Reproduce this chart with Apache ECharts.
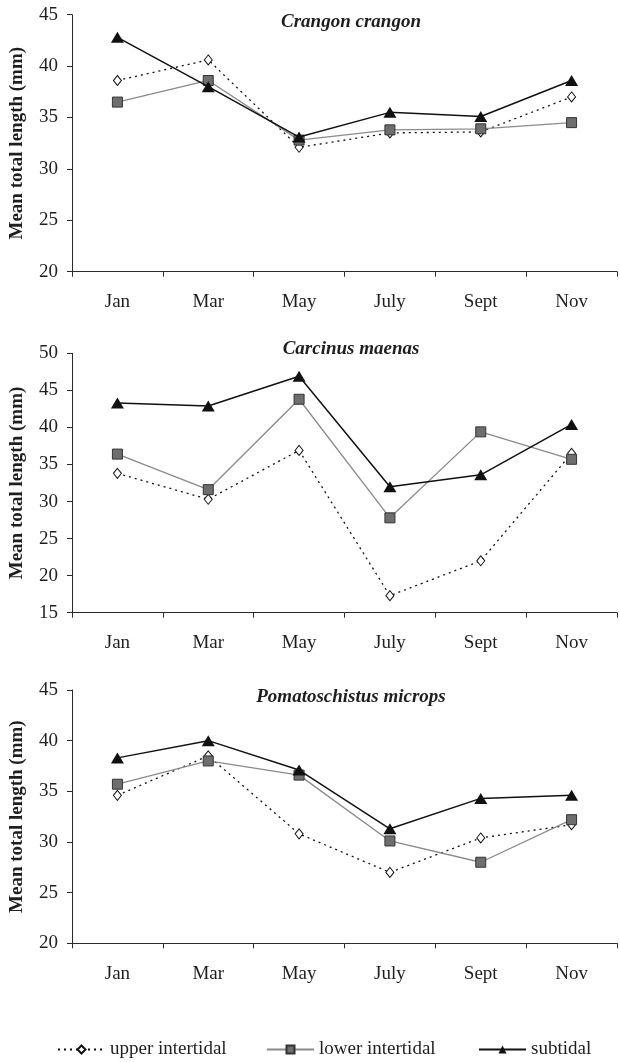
<!DOCTYPE html>
<html>
<head>
<meta charset="utf-8">
<script src="https://cdn.jsdelivr.net/npm/echarts@6/dist/echarts.min.js"></script>
<style>
html,body{margin:0;padding:0;background:#fff;}
#chart{width:620px;height:1062px;}
</style>
</head>
<body>
<div id="chart"></div>
<script>
var months = ['Jan', 'Mar', 'May', 'July', 'Sept', 'Nov'];
var seriesNames = ['upper intertidal', 'lower intertidal', 'subtidal'];
var panelTitles = ['Crangon crangon', 'Carcinus maenas', 'Pomatoschistus microps'];
var yMins = [20, 15, 20];
var yMaxs = [45, 50, 45];

var crangonUpper = [38.6, 40.6, 32.1, 33.5, 33.6, 37.0];
var crangonLower = [36.5, 38.6, 32.8, 33.8, 33.9, 34.5];
var crangonSub   = [42.8, 38.0, 33.1, 35.5, 35.1, 38.6];

var carcinusUpper = [33.8, 30.3, 36.9, 17.3, 22.0, 36.5];
var carcinusLower = [36.4, 31.6, 43.8, 27.8, 39.4, 35.7];
var carcinusSub   = [43.3, 42.9, 46.9, 32.0, 33.6, 40.4];

var pomatoUpper = [34.6, 38.5, 30.8, 27.0, 30.4, 31.7];
var pomatoLower = [35.7, 38.0, 36.6, 30.1, 28.0, 32.2];
var pomatoSub   = [38.3, 40.0, 37.1, 31.3, 34.3, 34.6];

var panelData = [
  [crangonUpper, crangonLower, crangonSub],
  [carcinusUpper, carcinusLower, carcinusSub],
  [pomatoUpper, pomatoLower, pomatoSub]
];

var grids = [
  {left: 72, top: 14.7, width: 545, height: 257},
  {left: 72, top: 353.3, width: 545, height: 259.4},
  {left: 72, top: 690, width: 545, height: 253.3}
];
var titleTops = [13, 340, 688];

var font = 'Liberation Serif, Times New Roman, serif';
var axisColor = '#2a2a2a';
var textColor = '#1e1e1e';

var styles = [
  {symbol: 'diamond', symbolSize: [8, 10], lineStyle: {color: '#111', width: 1.3, type: [2, 4]}, itemStyle: {color: '#fff', borderColor: '#111', borderWidth: 1}},
  {symbol: 'rect', symbolSize: 10, lineStyle: {color: '#8a8a8a', width: 1.3, type: 'solid'}, itemStyle: {color: '#6e6e6e', borderColor: '#333', borderWidth: 1}},
  {symbol: 'triangle', symbolSize: [13, 11], lineStyle: {color: '#111', width: 1.5, type: 'solid'}, itemStyle: {color: '#111', borderColor: '#111', borderWidth: 0}}
];

var xAxes = [], yAxes = [], series = [], titles = [];
for (var p = 0; p < 3; p++) {
  xAxes.push({
    type: 'category', gridIndex: p, data: months, boundaryGap: true,
    axisLine: {lineStyle: {color: axisColor, width: 1}},
    axisTick: {show: true, inside: false, length: 5, lineStyle: {color: axisColor}},
    axisLabel: {color: textColor, fontFamily: font, fontSize: 19, margin: 21}
  });
  yAxes.push({
    type: 'value', gridIndex: p, min: yMins[p], max: yMaxs[p], interval: 5,
    name: 'Mean total length (mm)', nameLocation: 'middle', nameGap: 45,
    nameTextStyle: {color: textColor, fontFamily: font, fontSize: 19, fontWeight: 'bold'},
    axisLine: {show: true, lineStyle: {color: axisColor, width: 1}},
    axisTick: {show: true, inside: false, length: 5, lineStyle: {color: axisColor}},
    splitLine: {show: false},
    axisLabel: {color: textColor, fontFamily: font, fontSize: 19, margin: 14}
  });
  titles.push({
    text: panelTitles[p], left: 351, textAlign: 'center', top: titleTops[p], padding: 0,
    textStyle: {fontFamily: font, fontSize: 19, fontStyle: 'italic', fontWeight: 'bold', color: textColor}
  });
  for (var s = 0; s < 3; s++) {
    var st = styles[s];
    series.push({
      name: seriesNames[s], type: 'line', xAxisIndex: p, yAxisIndex: p,
      data: panelData[p][s], symbol: st.symbol, symbolSize: st.symbolSize,
      showAllSymbol: true, z: 2 + s,
      lineStyle: st.lineStyle, itemStyle: st.itemStyle,
      emphasis: {disabled: true}, animation: false
    });
  }
}

var legendLefts = [57, 266, 478];
var legends = [];
for (var i = 0; i < 3; i++) {
  legends.push({
    data: [seriesNames[i]], left: legendLefts[i], top: 1040, padding: 0,
    itemWidth: 47, itemHeight: 10, selectedMode: false,
    textStyle: {fontFamily: font, fontSize: 19, color: textColor}
  });
}

var chart = echarts.init(document.getElementById('chart'), null, {renderer: 'canvas'});
chart.setOption({
  backgroundColor: '#fff',
  animation: false,
  title: titles,
  grid: grids,
  xAxis: xAxes,
  yAxis: yAxes,
  legend: legends,
  series: series
});
</script>
</body>
</html>
